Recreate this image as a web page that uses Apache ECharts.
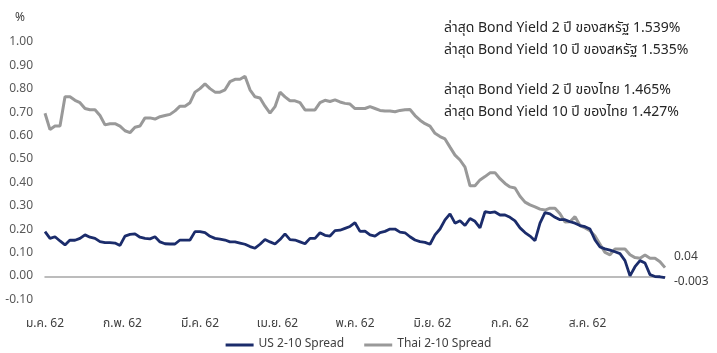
<!DOCTYPE html>
<html>
<head>
<meta charset="utf-8">
<script src="https://cdn.jsdelivr.net/npm/echarts@6/dist/echarts.min.js"></script>
<style>
html,body{margin:0;padding:0;background:#fff;}
#c{width:717px;height:353px;}
</style>
</head>
<body>
<div id="c"></div>
<script>
var FONT = '"Noto Sans Thai","Tahoma","Loma","Garuda","Noto Sans","Open Sans",sans-serif';

var monthLabels = ["ม.ค. 62","ก.พ. 62","มี.ค. 62","เม.ย. 62","พ.ค. 62","มิ.ย. 62","ก.ค. 62","ส.ค. 62",""];

var usSpread = [
0.194,0.165,0.172,0.154,0.137,0.158,0.157,0.165,0.18,0.17,
0.165,0.151,0.147,0.147,0.145,0.135,0.175,0.182,0.184,0.17,
0.165,0.163,0.172,0.15,0.142,0.141,0.141,0.158,0.158,0.158,
0.194,0.194,0.19,0.174,0.165,0.162,0.158,0.15,0.15,0.145,
0.14,0.13,0.123,0.14,0.16,0.15,0.141,0.16,0.184,0.16,
0.158,0.15,0.142,0.165,0.165,0.189,0.178,0.175,0.198,0.20,
0.208,0.216,0.232,0.195,0.196,0.18,0.175,0.19,0.195,0.205,
0.205,0.192,0.189,0.172,0.158,0.151,0.148,0.14,0.18,0.205,
0.244,0.27,0.23,0.24,0.22,0.25,0.238,0.21,0.279,0.275,
0.278,0.265,0.265,0.255,0.24,0.21,0.19,0.175,0.155,0.23,
0.275,0.27,0.255,0.245,0.245,0.236,0.23,0.22,0.215,0.205,
0.158,0.128,0.12,0.115,0.108,0.10,0.07,0.005,0.044,0.07,
0.06,0.01,0.002,0.001,-0.003
];

var thaiSpread = [
0.70,0.63,0.645,0.645,0.77,0.77,0.755,0.745,0.72,0.715,
0.715,0.69,0.65,0.655,0.655,0.645,0.625,0.617,0.64,0.645,
0.68,0.68,0.675,0.685,0.69,0.695,0.71,0.73,0.73,0.745,
0.79,0.805,0.825,0.805,0.79,0.79,0.80,0.835,0.845,0.845,
0.858,0.80,0.77,0.765,0.73,0.70,0.728,0.79,0.77,0.753,
0.753,0.745,0.714,0.714,0.714,0.745,0.755,0.75,0.757,0.748,
0.742,0.739,0.72,0.72,0.72,0.728,0.72,0.712,0.709,0.709,
0.706,0.712,0.715,0.716,0.69,0.67,0.655,0.645,0.614,0.60,
0.59,0.555,0.521,0.50,0.47,0.39,0.39,0.415,0.429,0.445,
0.446,0.42,0.40,0.385,0.38,0.345,0.32,0.308,0.30,0.29,
0.286,0.294,0.294,0.27,0.235,0.236,0.258,0.22,0.21,0.198,
0.175,0.14,0.105,0.095,0.12,0.12,0.12,0.095,0.083,0.08,
0.094,0.08,0.08,0.065,0.04
];

var days = usSpread.map(function(_, i){ return String(i + 1); });

var seriesNames = ["US 2-10 Spread", "Thai 2-10 Spread"];
var endLabels = ["-0.003", "0.04"];

var notes = [
  "ล่าสุด Bond Yield 2 ปี ของสหรัฐ 1.539%",
  "ล่าสุด Bond Yield 10 ปี ของสหรัฐ 1.535%",
  "ล่าสุด Bond Yield 2 ปี ของไทย 1.465%",
  "ล่าสุด Bond Yield 10 ปี ของไทย 1.427%"
];
var noteY = [31, 53, 93, 115];

var chart = echarts.init(document.getElementById('c'), null, {renderer:'canvas'});

var graphics = notes.map(function(t, i){
  return {
    type: 'text', left: 444, top: noteY[i] - 9,
    style: { text: t, fill: '#262626', font: '14px ' + FONT }
  };
});

chart.setOption({
  animation: false,
  backgroundColor: '#ffffff',
  textStyle: { fontFamily: FONT },
  grid: { left: 45, right: 52, top: 43, bottom: 52.6, containLabel: false },
  legend: {
    data: seriesNames,
    top: 334,
    left: 'center',
    icon: 'rect',
    itemWidth: 28,
    itemHeight: 3,
    itemGap: 20,
    textStyle: { fontSize: 12, color: '#404040', fontFamily: FONT }
  },
  xAxis: [
    {
      type: 'category', data: days, boundaryGap: false, position: 'bottom',
      axisLine: { onZero: true, lineStyle: { color: '#a6a6a6', width: 1.5 } },
      axisTick: { show: false }, axisLabel: { show: false }, splitLine: { show: false }
    },
    {
      type: 'category', data: monthLabels, boundaryGap: false, position: 'bottom',
      axisLine: { show: false, onZero: false }, axisTick: { show: false },
      axisLabel: { show: true, interval: 0, margin: 18, fontSize: 12, color: '#404040', fontFamily: FONT },
      splitLine: { show: false }
    }
  ],
  yAxis: {
    type: 'value', min: -0.1, max: 1.0, interval: 0.1,
    name: '%', nameLocation: 'end', nameGap: 18,
    nameTextStyle: { align: 'right', padding: [0, 20, 0, 0], fontSize: 12, color: '#404040' },
    axisLine: { show: false }, axisTick: { show: false }, splitLine: { show: false },
    axisLabel: { margin: 12, fontSize: 12, color: '#595959', formatter: function(v){ return v.toFixed(2); } }
  },
  series: [
    {
      name: seriesNames[1], type: 'line', data: thaiSpread, xAxisIndex: 0,
      showSymbol: false, symbol: 'none',
      lineStyle: { color: '#999999', width: 3 }, itemStyle: { color: '#999999' },
      endLabel: { show: true, formatter: function(){ return endLabels[1]; }, distance: 9, offset: [0, -10],
        fontSize: 12, color: '#404040' }
    },
    {
      name: seriesNames[0], type: 'line', data: usSpread, xAxisIndex: 0,
      showSymbol: false, symbol: 'none',
      lineStyle: { color: '#1b2c6b', width: 2.8 }, itemStyle: { color: '#1b2c6b' },
      endLabel: { show: true, formatter: function(){ return endLabels[0]; }, distance: 9, offset: [0, 5],
        fontSize: 12, color: '#404040' }
    }
  ],
  graphic: graphics
});
</script>
</body>
</html>
